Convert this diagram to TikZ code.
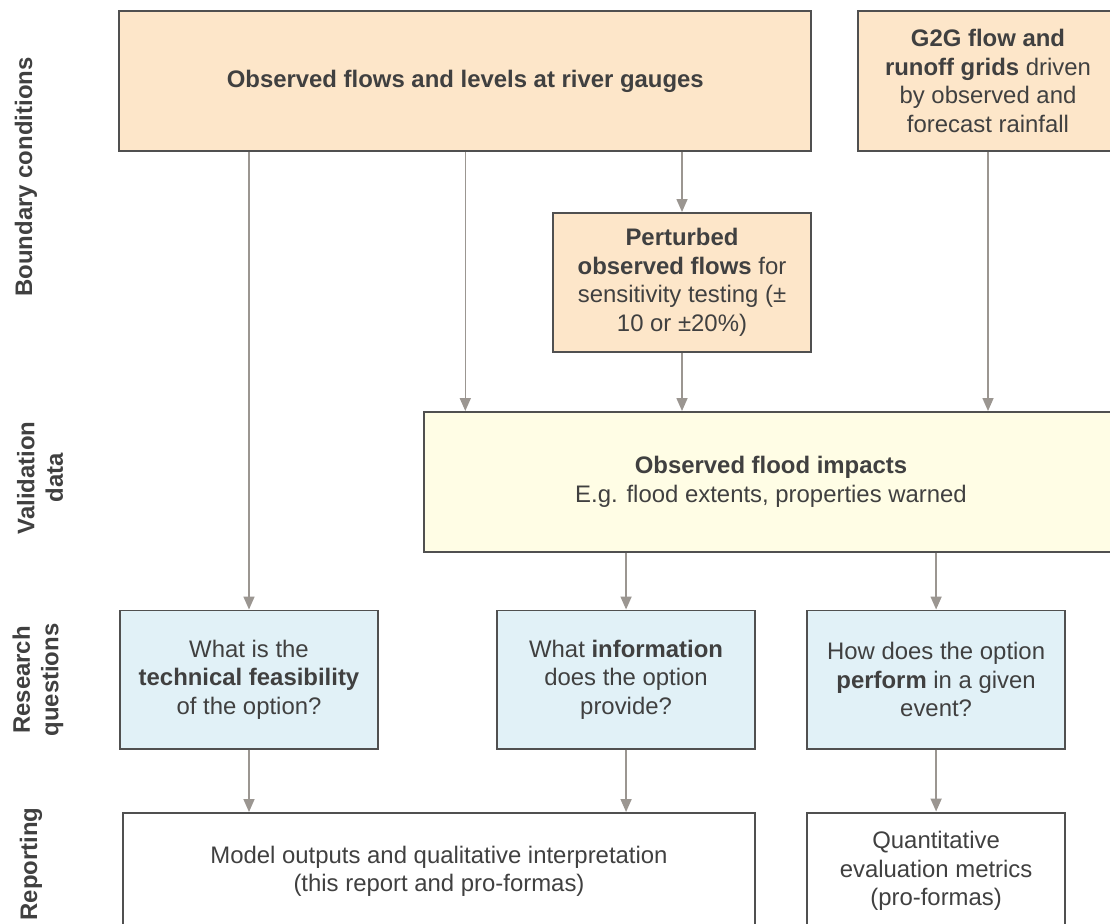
\documentclass[tikz,border=0pt]{standalone}
\usepackage{fontspec}
\setmainfont{Liberation Sans}
\usepackage{tikz}
\usetikzlibrary{arrows.meta,positioning}
\definecolor{bcfill}{HTML}{FDE6C9}
\definecolor{vdfill}{HTML}{FFFDE5}
\definecolor{rqfill}{HTML}{E1F1F7}
\definecolor{boxline}{HTML}{505050}
\definecolor{arrowgrey}{HTML}{9B9691}
\definecolor{txtgrey}{HTML}{404040}

\begin{document}
\begin{tikzpicture}[x=0.025cm, y=0.025cm,
		every node/.style={font=\fontsize{17}{20.3}\selectfont, text=txtgrey},
		box/.style={draw=boxline, line width=1.4pt, rectangle, align=center, inner sep=0pt},
		smallbox/.style={box, minimum width=6.45cm, minimum height=3.45cm},
		lane/.style={rotate=90, align=center, font=\fontsize{17}{20.3}\selectfont\bfseries},
		flow/.style={-{Triangle[length=9.2pt, width=7.8pt]}, color=arrowgrey, line width=1.1pt}]
			\useasboundingbox (0,0) rectangle (1110,-923);
			\fill[white] (0,0) rectangle (1110,-923);
			\clip (0,0) rectangle (1110,-923);
			
			\node[lane] (bc) at (26,-177) {Boundary conditions};
			\node[lane] (vd) at (40,-478) {Validation\\data};
			\node[lane] (rs) at (38,-680) {Research\\questions};
			\node[lane] (rp) at (31,-864) {Reporting};
			
			\node[box, fill=bcfill, minimum width=17.29cm, minimum height=3.5cm] (obs) at (465.3,-81) {\textbf{Observed flows and levels at river gauges}};
			\node[box, fill=bcfill, minimum width=6.5cm, minimum height=3.5cm] (g2g) at (988,-81) {\textbf{G2G flow and}\\\textbf{runoff grids} driven\\by observed and\\forecast rainfall};
			\node[smallbox, fill=bcfill, minimum height=3.475cm] (pert) at (682,-282.5) {\textbf{Perturbed}\\\textbf{observed flows} for\\sensitivity testing (±\\10 or ±20\%)};
			\node[box, fill=vdfill, minimum width=17.35cm, minimum height=3.5cm] (val) at (771,-482) {\textbf{Observed flood impacts}\\E.g. flood extents, properties warned};
			
			\node[smallbox, fill=rqfill] (rq1) at (249,-679.5) {What is the\\\textbf{technical feasibility}\\of the option?};
			\node[smallbox, fill=rqfill, right=2.925cm of rq1] (rq2) {What \textbf{information}\\does the option\\provide?};
			\node[smallbox, fill=rqfill, right=1.25cm of rq2] (rq3) {How does the option\\\textbf{perform} in a given\\event?};
			
			\node[box, fill=white, minimum width=15.8cm, minimum height=2.925cm] (rep1) at (439,-871.5) {Model outputs and qualitative interpretation\\(this report and pro-formas)};
			\node[box, fill=white, minimum width=6.45cm, minimum height=2.925cm, below=1.55cm of rq3] (rep2) {Quantitative\\evaluation metrics\\(pro-formas)};
			
			\draw[flow] (rq1.north |- obs.south) -- (rq1.north);
			\draw[flow] (obs.south) -- (obs.south |- val.north);
			\draw[flow] (pert.north |- obs.south) -- (pert.north);
			\draw[flow] (pert.south) -- (pert.south |- val.north);
			\draw[flow] (g2g.south) -- (g2g.south |- val.north);
			\draw[flow] (rq2.north |- val.south) -- (rq2.north);
			\draw[flow] (rq3.north |- val.south) -- (rq3.north);
			\draw[flow] (rq1.south) -- (rq1.south |- rep1.north);
			\draw[flow] (rq2.south) -- (rq2.south |- rep1.north);
			\draw[flow] (rq3.south) -- (rep2.north);
			
		\end{tikzpicture}
\end{document}
